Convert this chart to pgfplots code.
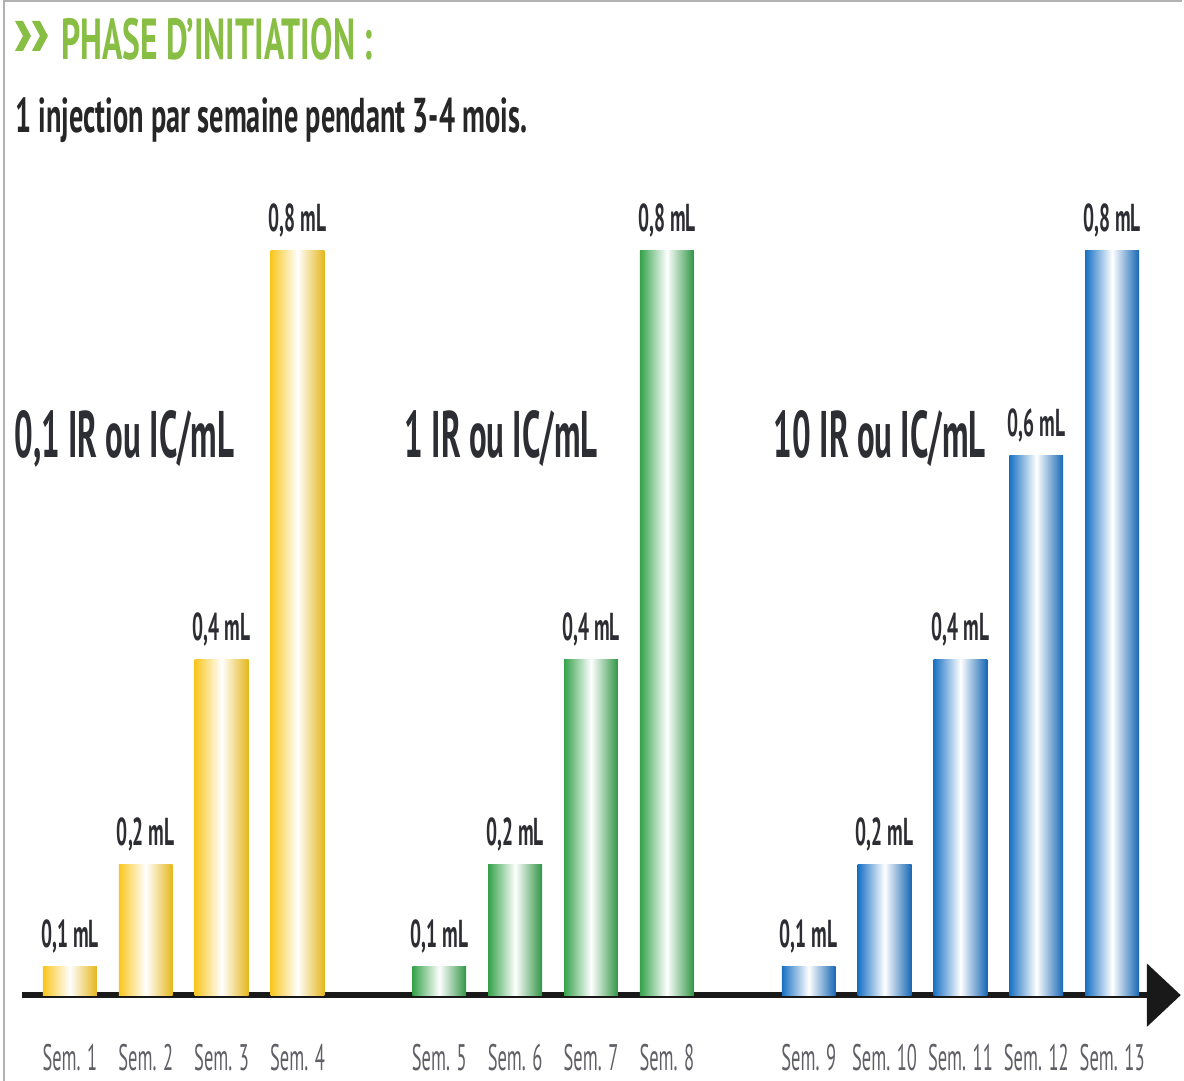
\documentclass[border=0pt]{standalone}
\usepackage{fontspec}
\setmainfont{PT Sans}[FakeStretch=0.5]
\newfontfamily\widefont{PT Sans}[FakeStretch=0.58]
\usepackage{pgfplots}
\pgfplotsset{compat=1.18}
\usetikzlibrary{arrows.meta}

\definecolor{barY}{RGB}{249,198,30}
\definecolor{barG}{RGB}{52,162,74}
\definecolor{barB}{RGB}{24,112,196}
\definecolor{titleG}{RGB}{136,190,68}
\definecolor{labelC}{RGB}{45,45,52}
\definecolor{tickC}{RGB}{95,95,102}

\pgfplotsset{
  tube/.style={draw=none, left color=#1, right color=#1!92!black, middle color=white},
}

\begin{document}
\begin{tikzpicture}
% page frame and headings, laid out on a 1184 x 1083 grid
\begin{scope}[yshift=541.5pt,x=0.5pt,y=-0.5pt]
  \useasboundingbox (0,0) rectangle (1184,1083);
  \draw[gray!60,line width=1.2pt] (4,0) -- (4,1083);
  \draw[gray!60,line width=1pt] (4,1) -- (1184,1);
  % double chevron bullet before the heading
  \foreach \dx in {0,17} {
    \fill[titleG] (15+\dx,21) -- (23+\dx,21) -- (31+\dx,36) -- (23+\dx,51)
      -- (15+\dx,51) -- (23+\dx,36) -- cycle;
  }
  \node[anchor=base west,inner sep=0,text=titleG,
        font=\widefont\bfseries\fontsize{29}{29}\selectfont] at (61,60)
        {PHASE D’INITIATION :};
  \node[anchor=base west,inner sep=0,text=black!85,
        font=\widefont\bfseries\fontsize{24.5}{24.5}\selectfont] at (15,133)
        {1 injection par semaine pendant 3-4 mois.};
  \node[anchor=base west,inner sep=0,text=labelC,
        font=\bfseries\fontsize{33}{33}\selectfont] at (14,458)
        {0,1 IR ou IC/mL};
  \node[anchor=base west,inner sep=0,text=labelC,
        font=\bfseries\fontsize{33}{33}\selectfont] at (405,458)
        {1 IR ou IC/mL};
  \node[anchor=base west,inner sep=0,text=labelC,
        font=\bfseries\fontsize{33}{33}\selectfont] at (775,458)
        {10 IR ou IC/mL};
\end{scope}

\begin{axis}[
  at={(11pt,43pt)}, anchor=south west,
  scale only axis, width=580.5pt, height=424.3pt,
  xmin=-0.632, xmax=14.645, ymin=0.0722, ymax=0.9,
  axis x line=bottom, axis y line=none,
  x axis line style={line width=3.2pt, draw=black!90,
    -{Triangle[length=17pt,width=31pt]}},
  xtick={0,1,2,3,4.87,5.87,6.87,7.87,9.74,10.74,11.74,12.74,13.74},
  xticklabels={Sem. 1,Sem. 2,Sem. 3,Sem. 4,Sem. 5,Sem. 6,Sem. 7,Sem. 8,
    Sem. 9,Sem. 10,Sem. 11,Sem. 12,Sem. 13},
  major tick length=0pt,
  xticklabel style={anchor=base, yshift=-37.5pt, text=tickC,
    font=\fontsize{18.5}{18.5}\selectfont},
  ybar, bar width=0.71, bar shift=0pt,
  point meta=explicit symbolic,
  nodes near coords,
  every node near coord/.append style={anchor=south, yshift=3pt,
    text=labelC, font=\bfseries\fontsize{19.5}{19.5}\selectfont},
]
% 0,1 IR ou IC/mL
\addplot[tube=barY] coordinates {(0,0.1) [0,1 mL]};
\addplot[tube=barY] coordinates {(1,0.2) [0,2 mL]};
\addplot[tube=barY] coordinates {(2,0.4) [0,4 mL]};
\addplot[tube=barY] coordinates {(3,0.8) [0,8 mL]};
% 1 IR ou IC/mL
\addplot[tube=barG] coordinates {(4.87,0.1) [0,1 mL]};
\addplot[tube=barG] coordinates {(5.87,0.2) [0,2 mL]};
\addplot[tube=barG] coordinates {(6.87,0.4) [0,4 mL]};
\addplot[tube=barG] coordinates {(7.87,0.8) [0,8 mL]};
% 10 IR ou IC/mL
\addplot[tube=barB] coordinates {(9.74,0.1) [0,1 mL]};
\addplot[tube=barB] coordinates {(10.74,0.2) [0,2 mL]};
\addplot[tube=barB] coordinates {(11.74,0.4) [0,4 mL]};
\addplot[tube=barB] coordinates {(12.74,0.6) [0,6 mL]};
\addplot[tube=barB] coordinates {(13.74,0.8) [0,8 mL]};
\end{axis}
\end{tikzpicture}
\end{document}
